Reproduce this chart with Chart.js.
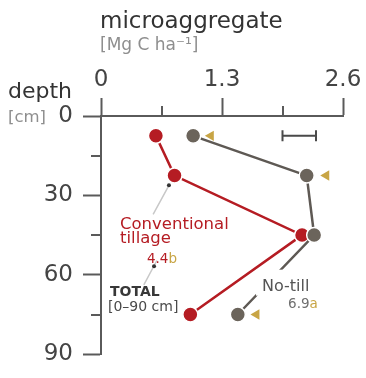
<!DOCTYPE html>
<html>
<head>
<meta charset="utf-8">
<script src="https://cdn.jsdelivr.net/npm/chart.js@4/dist/chart.umd.min.js"></script>
<style>
  html, body { margin: 0; padding: 0; background: #fff; }
  canvas { display: block; }
</style>
</head>
<body>
<canvas id="chart" width="366" height="378"></canvas>
<script>
(function(){
  // depth layer midpoints, cm
  const depths = [7.5, 22.5, 45, 75];
  // microaggregate C, Mg C ha-1
  const conventional = [0.59, 0.79, 2.16, 0.96];
  const noTill = [0.99, 2.21, 2.29, 1.47];
  // significance markers beside the no-till points
  const sigDepths = [7.5, 22.5, 75];
  const sigValues = [1.18, 2.42, 1.67];
  // axes
  const xTicks = [0, 1.3, 2.6];
  const xMinorTicks = [0.65, 1.95];
  const yTicks = [0, 30, 60, 90];
  const yMinorTicks = [15, 45, 75];
  // LSD bar
  const lsdCenter = 2.13;
  const lsdHalf = 0.18;
  const lsdDepth = 7.5;
  // 0-90 cm totals
  const totalConv = ['4.4', 'b'];
  const totalNoTill = ['6.9', 'a'];

  const FONT = '"DejaVu Sans", sans-serif';
  const RED = '#b51c23';
  const GREY = '#6b645b';
  const GREY_LINE = '#5e5954';
  const GOLD = '#c8a545';
  const AXIS = '#5a5a5a';
  const DARK = '#383838';
  const LIGHT = '#8e8e8e';

  function text(ctx, str, x, y, size, color, weight) {
    ctx.font = (weight || 'normal') + ' ' + size + 'px ' + FONT;
    ctx.fillStyle = color;
    ctx.textAlign = 'left';
    ctx.textBaseline = 'alphabetic';
    ctx.fillText(str, x, y);
    return ctx.measureText(str).width;
  }

  const annotate = {
    id: 'annotate',
    beforeDatasetsDraw(chart) {
      const ctx = chart.ctx, sx = chart.scales.x, sy = chart.scales.y;
      ctx.save();
      // leader lines
      ctx.strokeStyle = '#c8c8c8';
      ctx.lineWidth = 1.5;
      ctx.beginPath();
      ctx.moveTo(sx.getPixelForValue(0.73), sy.getPixelForValue(26.2));
      ctx.lineTo(sx.getPixelForValue(0.56), sy.getPixelForValue(37.2));
      ctx.moveTo(sx.getPixelForValue(0.60), sy.getPixelForValue(54.6));
      ctx.lineTo(sx.getPixelForValue(0.46), sy.getPixelForValue(63.8));
      ctx.stroke();
      ctx.fillStyle = '#333';
      [[0.73, 26.2], [0.57, 56.8]].forEach(p => {
        ctx.beginPath();
        ctx.arc(sx.getPixelForValue(p[0]), sy.getPixelForValue(p[1]), 2, 0, Math.PI * 2);
        ctx.fill();
      });
      ctx.restore();
    },
    afterDatasetsDraw(chart) {
      const ctx = chart.ctx, sx = chart.scales.x, sy = chart.scales.y;
      ctx.save();
      // LSD bar
      const y0 = sy.getPixelForValue(lsdDepth);
      const xa = sx.getPixelForValue(lsdCenter - lsdHalf);
      const xb = sx.getPixelForValue(lsdCenter + lsdHalf);
      ctx.strokeStyle = '#4a4a4a';
      ctx.lineWidth = 2;
      ctx.beginPath();
      ctx.moveTo(xa, y0); ctx.lineTo(xb, y0);
      ctx.moveTo(xa, y0 - 5.5); ctx.lineTo(xa, y0 + 5.5);
      ctx.moveTo(xb, y0 - 5.5); ctx.lineTo(xb, y0 + 5.5);
      ctx.stroke();

      // Conventional tillage label
      let x = sx.getPixelForValue(0.204);
      text(ctx, 'Conventional', x, sy.getPixelForValue(42.6), 16.5, RED);
      text(ctx, 'tillage', x, sy.getPixelForValue(48.1), 16.5, RED);
      x = sx.getPixelForValue(0.494);
      let w = text(ctx, totalConv[0], x, sy.getPixelForValue(55.4), 13.5, RED);
      text(ctx, totalConv[1], x + w, sy.getPixelForValue(55.4), 13.5, GOLD);

      x = sx.getPixelForValue(0.097);
      text(ctx, 'TOTAL', x, sy.getPixelForValue(68.1), 14, DARK, 'bold');
      text(ctx, '[0\u201390 cm]', sx.getPixelForValue(0.075), sy.getPixelForValue(73.6), 14, '#4a4a4a');

      // No-till label, knocked out of the line
      x = sx.getPixelForValue(1.73);
      const by = sy.getPixelForValue(66.0);
      ctx.font = '16px ' + FONT;
      w = ctx.measureText('No-till').width;
      ctx.fillStyle = '#fff';
      ctx.fillRect(x - 6, by - 21, w + 8, 26);
      text(ctx, 'No-till', x, by, 16, '#555');
      x = sx.getPixelForValue(2.01);
      w = text(ctx, totalNoTill[0], x, sy.getPixelForValue(72.5), 13.5, '#6e6e6e');
      text(ctx, totalNoTill[1], x + w, sy.getPixelForValue(72.5), 13.5, GOLD);
      ctx.restore();
    },
    afterDraw(chart) {
      const ctx = chart.ctx, sx = chart.scales.x, sy = chart.scales.y;
      const area = chart.chartArea;
      ctx.save();
      // minor ticks
      ctx.strokeStyle = AXIS;
      ctx.lineWidth = 2;
      ctx.beginPath();
      xMinorTicks.forEach(v => {
        const px = Math.round(sx.getPixelForValue(v));
        ctx.moveTo(px, area.top); ctx.lineTo(px, area.top - 10);
      });
      yMinorTicks.forEach(v => {
        const py = Math.round(sy.getPixelForValue(v));
        ctx.moveTo(area.left, py); ctx.lineTo(area.left - 10, py);
      });
      ctx.stroke();

      // titles
      text(ctx, 'microaggregate', 100, 28, 23, '#333');
      text(ctx, '[Mg C ha\u207B\u00B9]', 100, 50, 17, LIGHT);
      text(ctx, 'depth', 8, 98, 22, '#333');
      text(ctx, '[cm]', 8, 122, 16.5, LIGHT);
      ctx.restore();
    }
  };

  const axisGrid = {
    drawOnChartArea: false,
    drawTicks: true,
    tickLength: 18,
    tickWidth: 2,
    tickColor: AXIS
  };

  new Chart(document.getElementById('chart'), {
    type: 'scatter',
    data: {
      datasets: [
        {
          label: 'significance',
          data: sigDepths.map((d, i) => ({x: sigValues[i], y: d})),
          showLine: false,
          pointStyle: 'triangle',
          rotation: -90,
          pointRadius: 6,
          backgroundColor: GOLD,
          borderWidth: 0,
          order: 0
        },
        {
          label: 'No-till',
          data: depths.map((d, i) => ({x: noTill[i], y: d})),
          showLine: true,
          borderColor: GREY_LINE,
          borderWidth: 2.5,
          pointBackgroundColor: GREY,
          pointBorderColor: '#fff',
          pointBorderWidth: 1.5,
          pointRadius: 7.5,
          order: 1
        },
        {
          label: 'Conventional tillage',
          data: depths.map((d, i) => ({x: conventional[i], y: d})),
          showLine: true,
          borderColor: RED,
          borderWidth: 2.5,
          pointBackgroundColor: RED,
          pointBorderColor: '#fff',
          pointBorderWidth: 1.5,
          pointRadius: 7.5,
          order: 2
        }
      ]
    },
    options: {
      responsive: false,
      animation: false,
      layout: { padding: { left: 0, top: 0, right: 23, bottom: 15 } },
      plugins: {
        legend: { display: false },
        tooltip: { enabled: false }
      },
      scales: {
        x: {
          type: 'linear',
          position: 'top',
          min: 0,
          max: 2.6,
          afterBuildTicks: s => { s.ticks = xTicks.map(v => ({value: v})); },
          afterFit: s => { s.height = 116; },
          ticks: {
            autoSkip: false,
            padding: 4,
            color: '#444',
            font: { family: FONT, size: 23 },
            callback: v => String(v)
          },
          grid: axisGrid,
          border: { display: true, color: AXIS, width: 2 }
        },
        y: {
          type: 'linear',
          position: 'left',
          min: 0,
          max: 90,
          reverse: true,
          afterBuildTicks: s => { s.ticks = yTicks.map(v => ({value: v})); },
          afterFit: s => { s.width = 101; },
          ticks: {
            autoSkip: false,
            padding: 10,
            color: '#444',
            font: { family: FONT, size: 23 },
            callback: v => String(v)
          },
          grid: axisGrid,
          border: { display: true, color: AXIS, width: 2 }
        }
      }
    },
    plugins: [annotate]
  });
})();
</script>
</body>
</html>
